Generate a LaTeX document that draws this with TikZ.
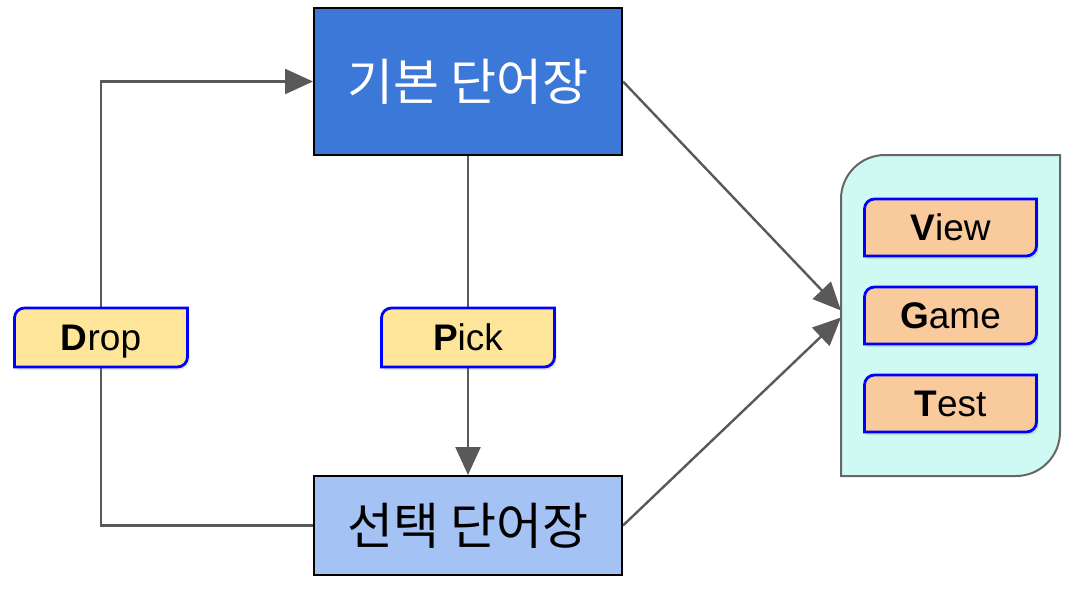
\documentclass[tikz,border=0pt]{standalone}
\usepackage{fontspec}
\usepackage{xcolor}
\usepackage{tikz}
\usetikzlibrary{arrows.meta,backgrounds,shadows}
\setmainfont{Liberation Sans}
\newfontfamily\krfont{Noto Sans CJK KR}
\definecolor{basicblue}{RGB}{60,120,216}
\definecolor{pickblue}{RGB}{164,194,244}
\definecolor{tagyellow}{RGB}{255,229,153}
\definecolor{modeorange}{RGB}{249,203,156}
\definecolor{modecyan}{RGB}{206,250,243}
\definecolor{linegray}{RGB}{89,89,89}
\definecolor{framegray}{RGB}{102,102,102}

% outline with rounded top left and bottom right corners
\newcommand{\cutbox}[3]{%
  \path[#3] (#1.north east) -- ([yshift=#2]#1.south east) arc[start angle=0,end angle=-90,radius=#2]
    -- (#1.south west) -- ([yshift=-#2]#1.north west) arc[start angle=180,end angle=90,radius=#2] -- cycle;}

\begin{document}
\begin{tikzpicture}[x=0.5pt, y=-0.5pt, node distance=44pt]
% Define styles
\tikzstyle{wordbook} = [rectangle, minimum width=154pt, text centered, draw=black, line width=1pt, font=\krfont\fontsize{25}{30}\selectfont]
\tikzstyle{tagtext} = [rectangle, minimum width=86.5pt, minimum height=29.5pt, inner sep=0pt, outer sep=0pt, text height=13.4pt, text depth=0pt, font=\fontsize{18.5}{22}\selectfont]
\tikzstyle{modetext} = [tagtext, minimum width=86pt, minimum height=28.5pt]
\tikzstyle{tagline} = [draw=blue, line width=1.4pt, drop shadow={opacity=0.2, shadow xshift=1pt, shadow yshift=-1.5pt}]
\tikzstyle{arrow} = [draw=linegray, line width=1.2pt, -{Triangle[length=14pt,width=12.5pt]}]

\useasboundingbox (0,0) rectangle (1076,594);

% Place nodes
\node [wordbook, fill=basicblue, text=white, minimum height=73.5pt] (basic) at (468,81.5) {기본 단어장};
\node [wordbook, fill=pickblue, minimum height=49.5pt, below of=basic, node distance=222pt] (chosen) {선택 단어장};
\node [tagtext, below of=basic, node distance=128pt] (pick) {\textbf{P}ick};
\node [tagtext, left of=pick, node distance=183.5pt] (drop) {\textbf{D}rop};
\node [rectangle, minimum width=109.5pt, minimum height=160.5pt, outer sep=0pt] (modes) at (950.5,315.5) {};
\node [modetext] (game) at (modes) {\textbf{G}ame};
\node [modetext, above of=game] (view) {\textbf{V}iew};
\node [modetext, below of=game] (test) {\textbf{T}est};

% Draw arrows and outlines
\begin{scope}[on background layer]
\cutbox{modes}{22pt}{fill=modecyan, draw=framegray, line width=1pt}
\draw [arrow] (chosen.west) -| (drop.center) |- (basic.west);
\draw [arrow] (basic) -- (chosen);
\draw [arrow] (basic.east) -- ([yshift=2.5pt]modes.west);
\draw [arrow] (chosen.east) -- ([yshift=-1pt]modes.west);
\cutbox{drop}{5pt}{tagline, fill=tagyellow}
\cutbox{pick}{5pt}{tagline, fill=tagyellow}
\cutbox{view}{5pt}{tagline, fill=modeorange}
\cutbox{game}{5pt}{tagline, fill=modeorange}
\cutbox{test}{5pt}{tagline, fill=modeorange}
\end{scope}
\end{tikzpicture}
\end{document}
